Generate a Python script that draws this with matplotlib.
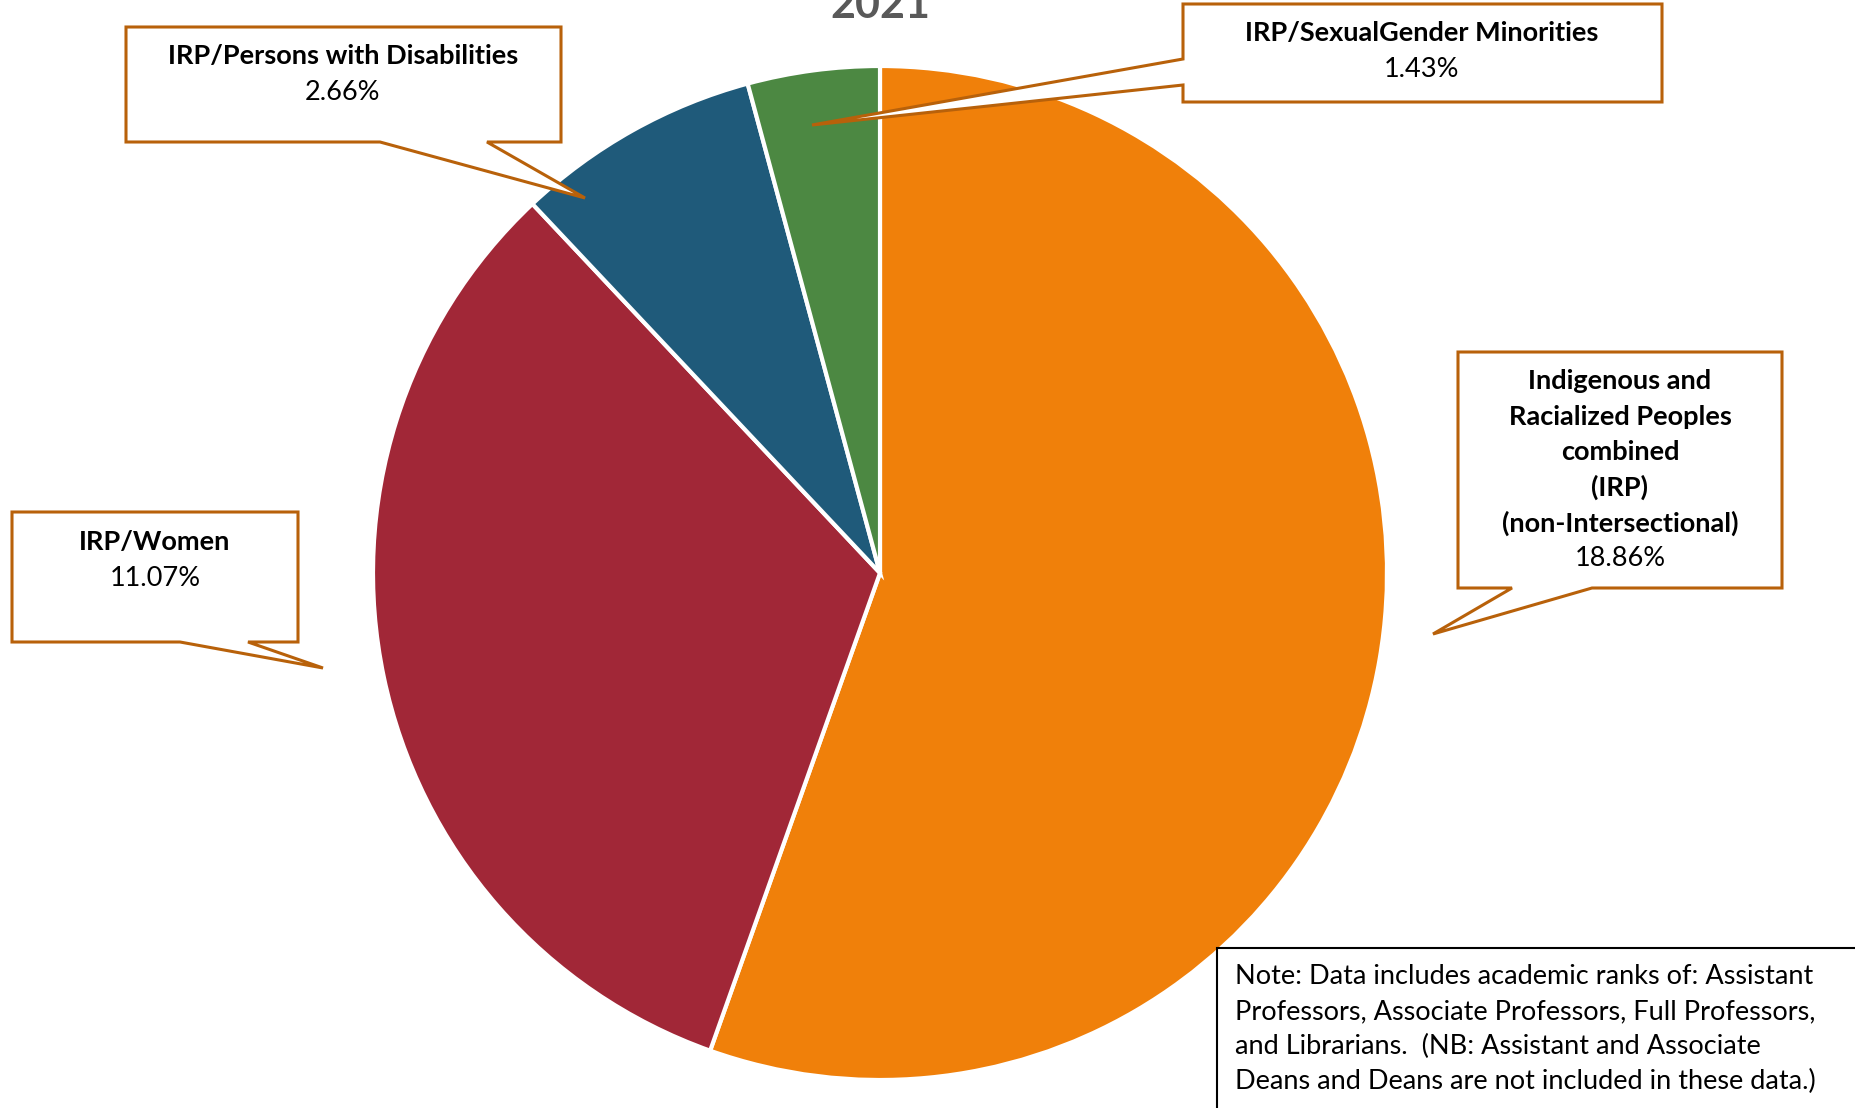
import matplotlib
matplotlib.use("Agg")
import matplotlib.pyplot as plt
from matplotlib.patches import Polygon, Rectangle

plt.rcParams['font.family'] = ['Lato', 'DejaVu Sans']

# data
labels = ['Indigenous and\nRacialized Peoples\ncombined\n(IRP)\n(non-Intersectional)',
          'IRP/Women', 'IRP/Persons with Disabilities', 'IRP/SexualGender Minorities']
values = [18.86, 11.07, 2.66, 1.43]
colors = ['#F0800A', '#A12737', '#1F5A7A', '#4C8842']
title = '2021'
note = ('Note: Data includes academic ranks of: Assistant\n'
        'Professors, Associate Professors, Full Professors,\n'
        'and Librarians.  (NB: Assistant and Associate\n'
        'Deans and Deans are not included in these data.)')

W, H = 1856, 1108
callout_col = '#B8610A'

fig = plt.figure(figsize=(W / 100, H / 100), dpi=100)
ax = fig.add_axes([0, 0, 1, 1])


def Y(y):
    # pixel-from-top to data y
    return H - y


ax.pie(values, colors=colors, startangle=90, counterclock=False,
       center=(880, Y(573)), radius=507, frame=True,
       wedgeprops=dict(edgecolor='white', linewidth=3))

ax.set_xlim(0, W)
ax.set_ylim(0, H)
ax.set_aspect('equal')
ax.axis('off')

ax.text(880, Y(18), title, ha='center', va='baseline', fontsize=31,
        fontweight='bold', color='#595959')


def callout(box, base, tip, side='bottom'):
    x0, y0, x1, y1 = box
    if side == 'bottom':
        pts = [(x0, y0), (x1, y0), (x1, y1), (base[1], y1), tip, (base[0], y1), (x0, y1)]
    else:
        pts = [(x0, y0), (x1, y0), (x1, y1), (x0, y1), (x0, base[1]), tip, (x0, base[0])]
    pts = [(px, Y(py)) for px, py in pts]
    ax.add_patch(Polygon(pts, closed=True, facecolor='white', edgecolor=callout_col,
                         linewidth=2.2, zorder=5, joinstyle='miter'))


def label(x, y, name, val, lh=35.5):
    lines = name.split('\n')
    for i, ln in enumerate(lines):
        ax.text(x, Y(y + i * lh), ln, ha='center', va='center', fontsize=19.5,
                fontweight='bold', color='black', zorder=6)
    ax.text(x, Y(y + len(lines) * lh), '%.2f%%' % val, ha='center', va='center',
            fontsize=19.5, color='black', zorder=6)


# Indigenous (IRP)
callout((1458, 352, 1782, 588), (1512, 1592), (1433, 634))
label(1620, 381, labels[0], values[0])
# Women
callout((12, 512, 298, 642), (180, 248), (323, 668))
label(155, 542, labels[1], values[1], lh=36)
# Persons with disabilities
callout((126, 27, 561, 142), (380, 487), (585, 198))
label(343, 56, labels[2], values[2], lh=36)
# Sexual / gender minorities
callout((1183, 4, 1662, 102), (59, 85), (812, 125), side='left')
label(1422, 33, labels[3], values[3], lh=36)

# note box
ax.add_patch(Rectangle((1217, Y(1115)), 700, 1115 - 948, facecolor='white',
                       edgecolor='black', linewidth=1.5, zorder=5, clip_on=False))
ax.text(1235, Y(964), note, ha='left', va='top', fontsize=19.5, color='black',
        linespacing=1.5, zorder=6)

fig.savefig('out.png', dpi=100)
